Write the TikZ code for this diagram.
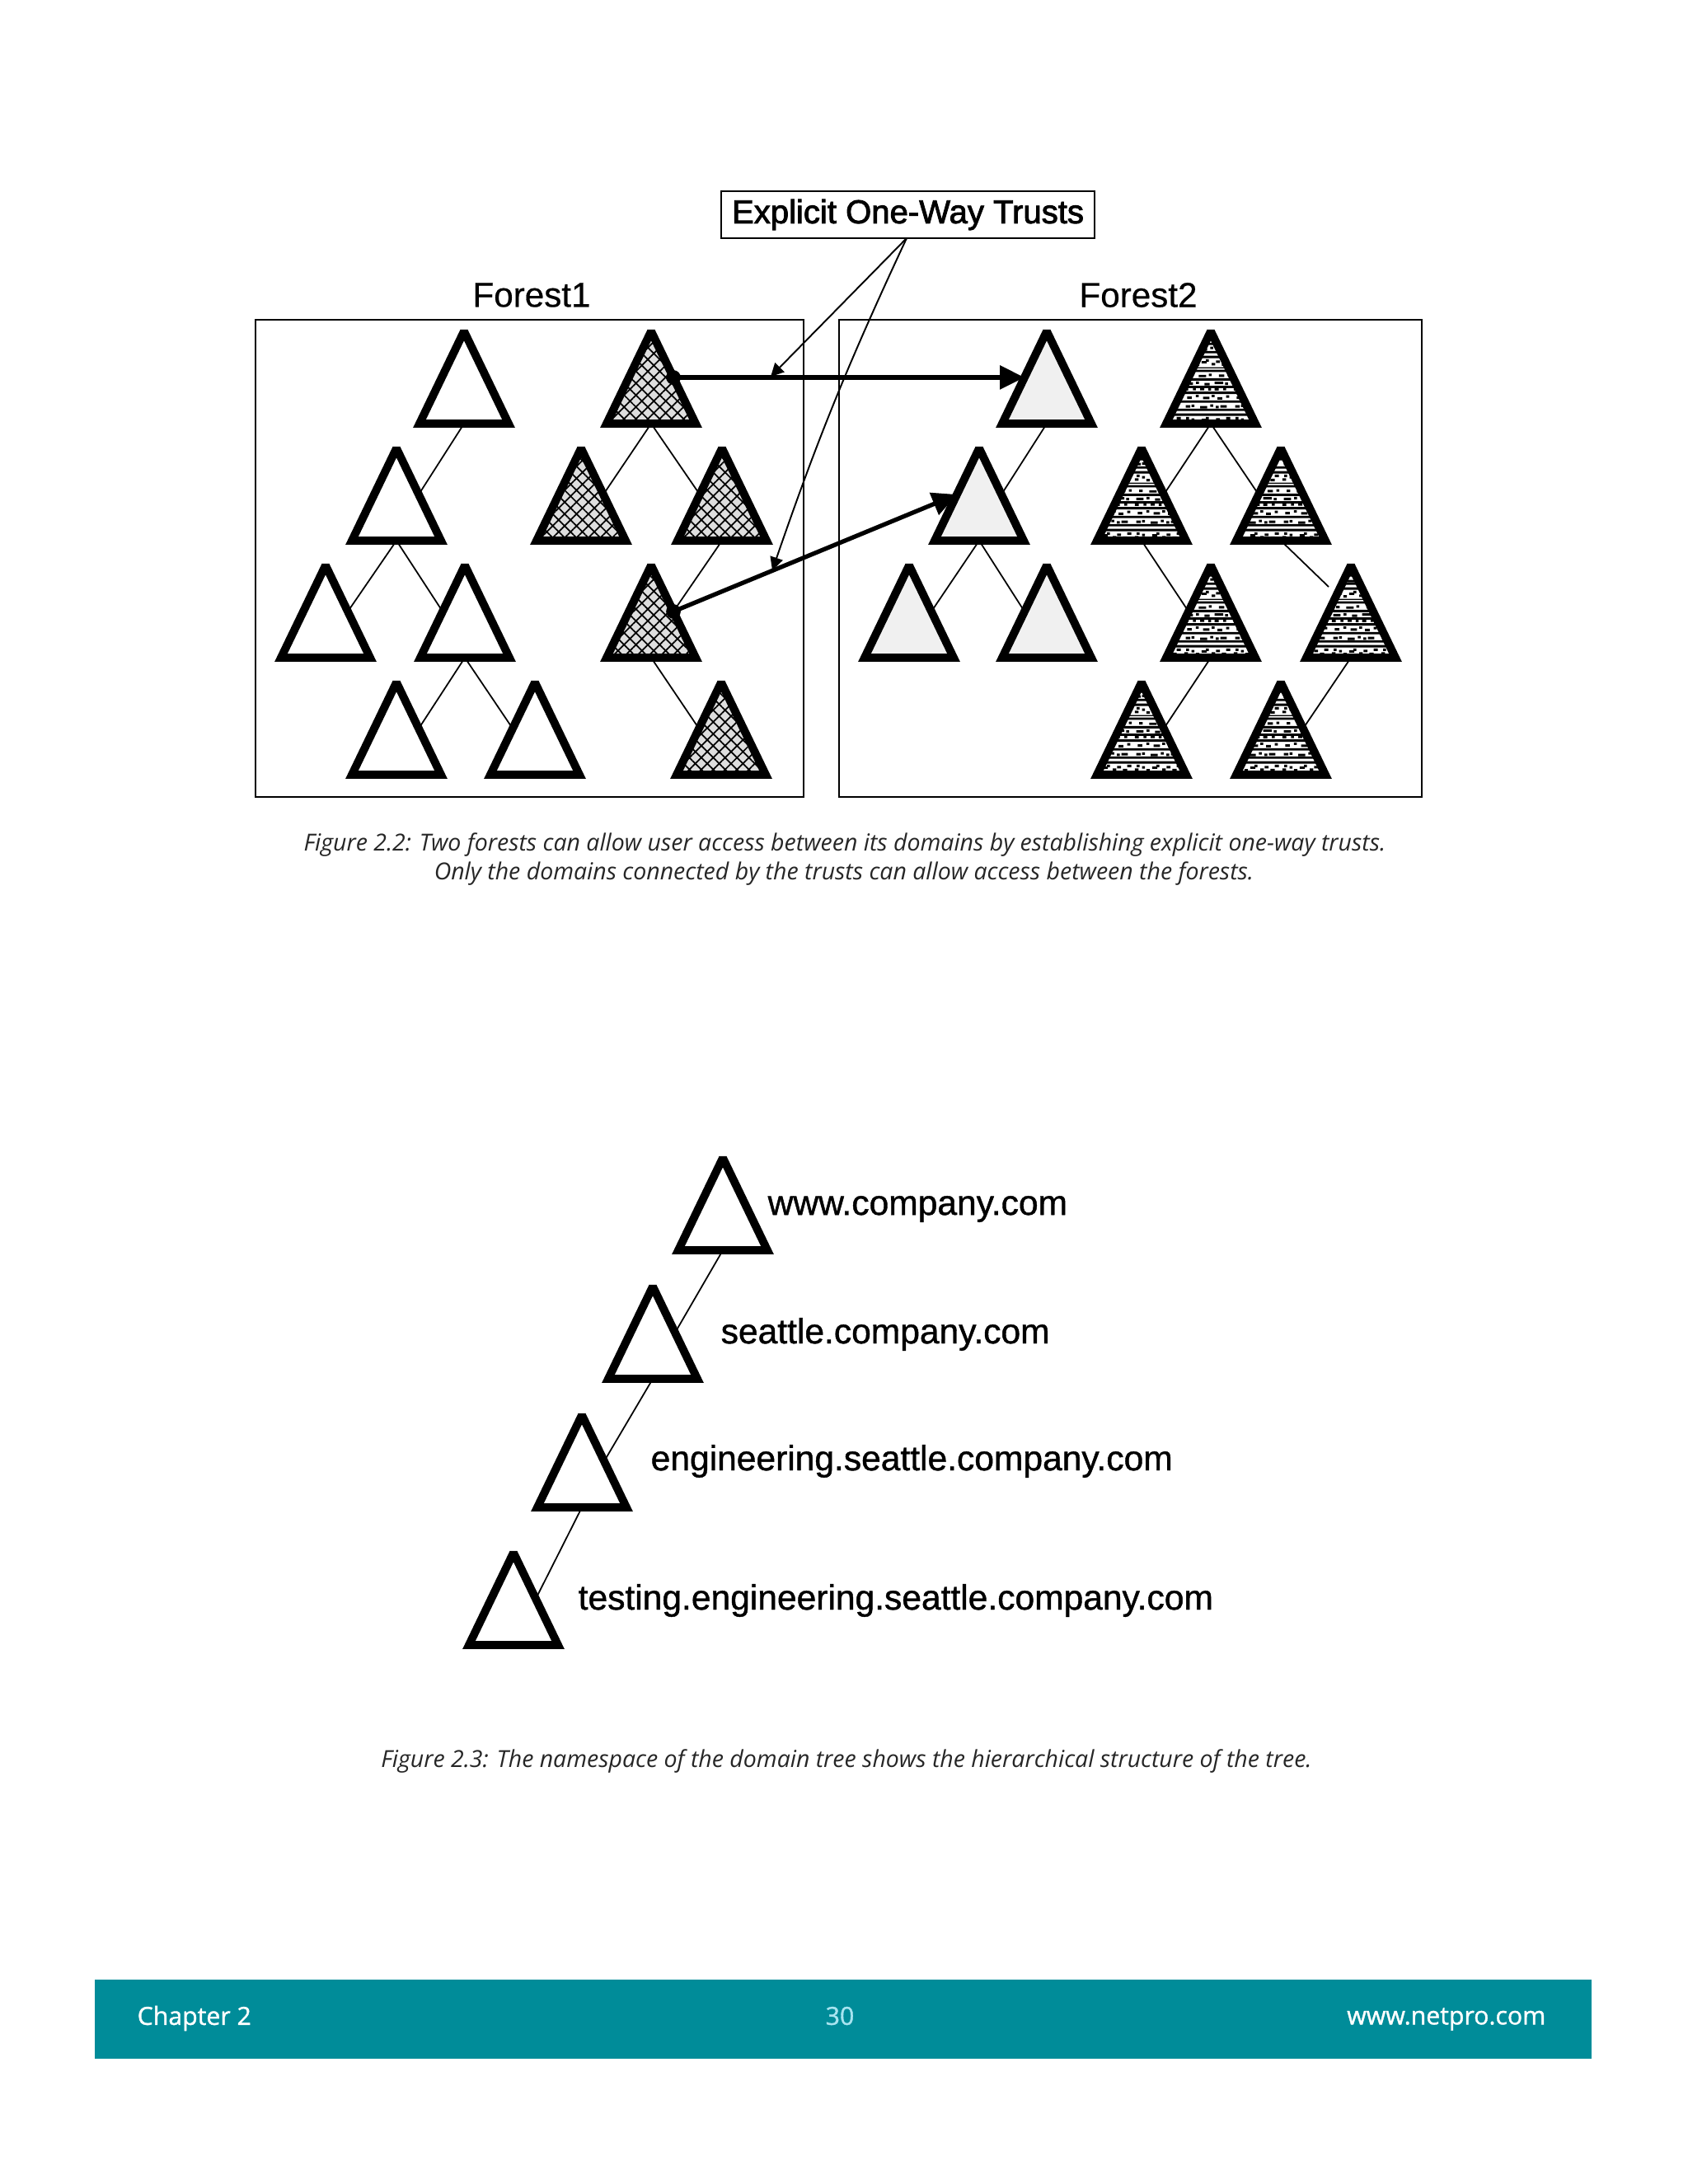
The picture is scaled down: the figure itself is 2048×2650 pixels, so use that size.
\documentclass[tikz,border=0pt]{standalone}
\usepackage{fontspec}
\setmainfont{Liberation Sans}
\newfontfamily\headfont[FakeBold=0.4]{Liberation Sans}
\newfontfamily\labelfont[FakeBold=1.0]{Liberation Sans}
\newfontfamily\boxfont[FakeBold=2.2]{Liberation Sans}
\newfontfamily\capfont{Open Sans}
\newfontfamily\footfont[FakeBold=1.2]{Open Sans}
\usepackage[HTML]{xcolor}
\usetikzlibrary{positioning, arrows.meta, shapes.geometric, patterns, patterns.meta}
\definecolor{footteal}{HTML}{008C99}
\definecolor{footblue}{HTML}{A8E4F0}
\definecolor{trustgray}{HTML}{DEDEDE}
\definecolor{plaingray}{HTML}{F0F0F0}
\pgfdeclarepatternformonly{speckle}{\pgfpointorigin}{\pgfpoint{17pt}{20pt}}{\pgfpoint{17pt}{20pt}}{
  \foreach \y/\h in {0/0.8,2.6/0.9,5.6/0.8,6.9/0.4,10.4/0.9,12.1/0.8,15/0.8,18/0.9}{
    \pgfpathrectangle{\pgfpoint{0pt}{\y pt}}{\pgfpoint{17pt}{\h pt}}\pgfusepath{fill}}
  \foreach \x/\y/\w in {1/1.2/2.5,4.6/1.5/1,7.5/1/1.8,11/1.4/3,14.6/1.1/1,2/4/1.2,5.5/3.8/2.6,9/4.2/1,12.5/3.9/1.8,15.5/4.1/1,
    0.5/7.9/1.3,3/8.7/1,4.5/7.7/1.2,6.5/8.6/1.8,8/9.2/1,10/7.9/1.2,11.5/8.8/1.3,13.5/7.8/1.5,15/9.2/1.4,1.2/9.2/1,
    1/13.3/1.6,3/13.5/1,6/13/2.4,9.5/13.6/1,11.4/13.1/1,13/13.3/2.2,
    1.5/16.3/1.6,4.5/16.9/1,7/16.2/2.2,10/16.9/1,12/16.1/1.6,15/16.7/1,0.5/19.2/1.4,3.5/19.3/1,6/19.3/1.4,8.8/19.2/1,11/19.2/1.4,14/19.3/1}{
    \pgfpathrectangle{\pgfpoint{\x pt}{\y pt}}{\pgfpoint{\w pt}{0.85pt}}\pgfusepath{fill}}
}
\tikzset{
  tri/.style={isosceles triangle, isosceles triangle stretches, shape border rotate=90,
    minimum width=1.08cm, minimum height=1.12cm, inner sep=0pt, outer sep=0pt, anchor=lower side,
    draw=black, line width=2.8pt, miter limit=2},
  plaintri/.style={tri, fill=white},
  lighttri/.style={tri, fill=plaingray},
  hatchtri/.style={tri, preaction={fill=trustgray}, pattern={Hatch[angle=45,distance=2.9pt,line width=0.5pt]}},
  specktri/.style={tri, fill=white, pattern=speckle},
  treelink/.style={line width=0.5pt},
  trustarrow/.style={line width=1.5pt, shorten <=-2.5pt, {Circle[length=5pt]}-{Triangle[length=8.5pt,width=8pt]}},
  pointer/.style={line width=0.55pt, -{Triangle[length=4.5pt,width=4.5pt]}},
  headlabel/.style={font=\headfont\fontsize{12}{14}\selectfont, inner sep=0pt},
  treelabel/.style={font=\labelfont\fontsize{12.1}{14}\selectfont, inner sep=0pt, anchor=west},
  figcaption/.style={font=\capfont\itshape\fontsize{8.1}{10}\selectfont, text=black!85, inner sep=0pt},
  footlabel/.style={font=\footfont\fontsize{8.6}{10}\selectfont, inner sep=0pt},
}
\begin{document}
\begin{tikzpicture}[x=0.01cm,y=-0.01cm]
\useasboundingbox (0,0) rectangle (2048,2650);

% Forest boxes
\draw[line width=0.55pt] (310,388) rectangle (975,967);
\draw[line width=0.55pt] (1018,388) rectangle (1725,967);
\node[headlabel] (head1) at (645,358) {Forest1};
\node[headlabel] (head2) at (1381,358) {Forest2};

% Forest1, left tree
\node[plaintri] (a1) at (563,514) {};
\node[plaintri] (a2) at (481,656) {};
\node[plaintri] (a3) at (395,798) {};
\node[plaintri] (a4) at (564,798) {};
\node[plaintri] (a5) at (481,940) {};
\node[plaintri] (a6) at (649,940) {};
\draw[treelink] (a1.lower side) -- (a2.right side);
\draw[treelink] (a2.lower side) -- (a3.right side);
\draw[treelink] (a2.lower side) -- (a4.left side);
\draw[treelink] (a4.lower side) -- (a5.right side);
\draw[treelink] (a4.lower side) -- (a6.left side);

% Forest1, right tree
\node[hatchtri] (b1) at (790,514) {};
\node[hatchtri] (b2) at (705,656) {};
\node[hatchtri] (b3) at (876,656) {};
\node[hatchtri] (b4) at (790,798) {};
\node[hatchtri] (b5) at (875,940) {};
\draw[treelink] (b1.lower side) -- (b2.right side);
\draw[treelink] (b1.lower side) -- (b3.left side);
\draw[treelink] (b3.lower side) -- (b4.right side);
\draw[treelink] (b4.lower side) -- (b5.left side);

% Forest2, left tree
\node[lighttri] (c1) at (1270,514) {};
\node[lighttri] (c2) at (1188,656) {};
\node[lighttri] (c3) at (1103,798) {};
\node[lighttri] (c4) at (1270,798) {};
\draw[treelink] (c1.lower side) -- (c2.right side);
\draw[treelink] (c2.lower side) -- (c3.right side);
\draw[treelink] (c2.lower side) -- (c4.left side);

% Forest2, right tree
\node[specktri] (d1) at (1469,514) {};
\node[specktri] (d2) at (1385,656) {};
\node[specktri] (d3) at (1554,656) {};
\node[specktri] (d4) at (1469,798) {};
\node[specktri] (d5) at (1639,798) {};
\node[specktri] (d6) at (1385,940) {};
\node[specktri] (d7) at (1554,940) {};
\coordinate (d5top) at (1612,712);
\draw[treelink] (d1.lower side) -- (d2.right side);
\draw[treelink] (d1.lower side) -- (d3.left side);
\draw[treelink] (d2.lower side) -- (d4.left side);
\draw[treelink] (d3.lower side) -- (d5top);
\draw[treelink] (d4.lower side) -- (d6.right side);
\draw[treelink] (d5.lower side) -- (d7.right side);

% Trust arrows between the forests
\draw[trustarrow] (b1.right side) -- (c1.left side);
\draw[trustarrow] (b4.right side) -- (c2.left side);

% Callout with its pointers
\node[draw, line width=0.55pt, minimum width=4.53cm, minimum height=0.57cm, inner sep=0pt,
  font=\boxfont\fontsize{11.4}{13}\selectfont] (callout) at (1101.5,260.5) {Explicit One-Way Trusts};
\coordinate (hit1) at (935,457);
\coordinate (hit2) at (937,692);
\draw[pointer] (1100,289) -- (hit1);
\draw[pointer] (1100,289) to[bend right=3] (hit2);

% Captions of the two figures
\node[figcaption] (cap1) at (1025,1025) {Figure 2.2: Two forests can allow user access between its domains by establishing explicit one-way trusts.};
\node[figcaption] (cap2) at (1024,1060) {Only the domains connected by the trusts can allow access between the forests.};
\node[figcaption] (cap3) at (1027,2137) {Figure 2.3: The namespace of the domain tree shows the hierarchical structure of the tree.};

% Domain tree
\node[plaintri] (t1) at (877,1517) {};
\node[plaintri] (t2) at (792,1673) {};
\node[plaintri] (t3) at (706,1829) {};
\node[plaintri] (t4) at (623,1996) {};
\draw[treelink] (t1.lower side) -- (t2.right side);
\draw[treelink] (t2.lower side) -- (t3.right side);
\draw[treelink] (t3.lower side) -- (t4.right side);
\node[treelabel] (n1) at (931,1467) {www.company.com};
\node[treelabel] (n2) at (874,1619) {seattle.company.com};
\node[treelabel] (n3) at (789,1773) {engineering.seattle.company.com};
\node[treelabel] (n4) at (701,1942) {testing.engineering.seattle.company.com};

% Footer bar
\fill[footteal] (115,2402) rectangle (1931,2498);
\node[footlabel, text=white, anchor=west] (chap) at (166,2449) {Chapter 2};
\node[footlabel, text=footblue] (page) at (1019,2446) {30};
\node[footlabel, text=white, anchor=east] (site) at (1876,2450) {www.netpro.com};
\end{tikzpicture}
\end{document}
